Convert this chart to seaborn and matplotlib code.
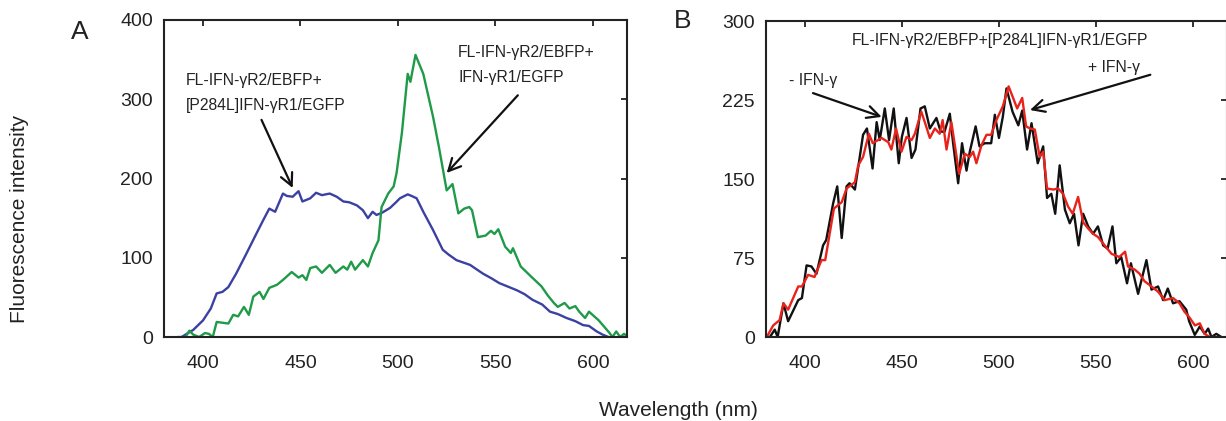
import numpy as np
import pandas as pd
import seaborn as sns
from matplotlib import pyplot as plt

# Panel A: FL-IFN-gR2/EBFP + [P284L]IFN-gR1/EGFP (blue)
wl_blue = [389, 395, 400, 404, 407, 410, 413, 417, 422, 427.5, 431, 434, 437, 441, 443, 446,
           449, 451, 455, 458, 461, 465, 468.6, 472, 475, 479, 482, 484.6, 487, 489, 492,
           496, 499, 501, 505, 507, 509.6, 513, 518, 523, 526, 530, 537, 543.6, 548, 552,
           556, 561, 565, 569, 574, 578, 582, 586.5, 591, 595, 598, 602, 605, 608]
int_blue = [0, 9, 21, 36, 55, 57, 63, 80, 104, 131, 148, 162, 158, 181, 178, 177,
            184, 171, 175, 182, 179, 181, 177, 171, 170, 166, 160, 150, 158, 154, 157,
            163, 170, 175, 180, 178, 175, 158, 135, 110, 104, 97, 91, 80, 74, 68,
            64, 59, 54, 47, 41, 32, 29, 24, 20, 15, 14, 7, 3, 0]

# Panel A: FL-IFN-gR2/EBFP + IFN-gR1/EGFP (green)
wl_green = [387, 391, 393, 395, 398, 401, 403, 405, 407, 410, 413, 415.5, 418, 421, 423.5,
            425.8, 429, 431, 434, 438, 441, 445.5, 449, 451, 453, 455, 458, 461, 465, 468,
            472, 474, 476, 478, 482, 484.6, 487, 490, 491.6, 495, 497.8, 499.3, 502, 505,
            506.4, 509, 513, 518, 521, 525, 528, 531, 534, 536.6, 538, 541, 545, 547.7,
            549.5, 551.5, 555, 557.9, 559, 563, 568, 573.6, 577, 580, 582, 585.5, 588,
            591, 593, 596, 598, 603, 608.6, 610, 612, 614, 616, 618]
int_green = [0, 0, 8, 3, 0, 5, 4, 0, 19, 18, 17, 28, 26, 38, 28,
             51, 57, 48, 62, 66, 72, 82, 75, 78, 72, 87, 89, 81, 91, 81,
             89, 85, 95, 85, 97, 89, 106, 122, 164, 181, 190, 207, 257, 332,
             322, 356, 332, 278, 240, 185, 193, 156, 162, 164, 160, 126, 128, 134,
             130, 136, 114, 106, 112, 89, 77, 64, 52, 43, 38, 43, 36,
             39, 32, 24, 32, 21, 5, 0, 7, 0, 4, 0]

# Panel B: - IFN-g (black)
wl_minus = [379.4, 382, 384.5, 386, 389, 391.4, 396.6, 398.5, 400.9, 403.4, 406, 409.4, 411,
            414.6, 416.7, 419, 421.5, 423, 425.8, 430, 432, 434.9, 437, 438.6, 441.2, 443.4,
            445.8, 448.4, 450, 452.4, 455, 457, 459.6, 461.8, 464.4, 467.8, 470, 472, 474.7,
            476.4, 479, 481, 483.3, 485, 488, 490, 492.7, 496, 497.9, 500, 502, 503.9, 507,
            510, 512, 514.5, 516.8, 520, 522.8, 524.8, 527, 529, 531.3, 534, 536.5, 538.7,
            541, 543.4, 546, 548.5, 551, 553.7, 556, 558.5, 560.5, 563, 566, 568, 571.7, 576,
            578.6, 582, 584.6, 587, 589.7, 593, 596.5, 598, 600.9, 603.5, 606, 607.8, 609.5,
            612, 614.6]
int_minus = [0, 0, 7, 0, 32, 15, 35, 37, 68, 67, 60, 87, 92,
             127, 143, 94, 143, 146, 140, 192, 198, 160, 204, 187, 217, 187,
             217, 165, 190, 208, 170, 178, 217, 219, 198, 208, 195, 195, 212,
             184, 146, 184, 158, 176, 200, 181, 184, 184, 211, 189, 209, 236, 214,
             201, 215, 178, 203, 165, 181, 132, 136, 117, 163, 121, 108, 117,
             87, 117, 105, 98, 105, 87, 84, 105, 70, 76, 51, 70, 41, 73,
             45, 48, 35, 46, 32, 34, 26, 15, 2, 10, 3, 8, 0,
             3, 0]

# Panel B: + IFN-g (red)
wl_plus = [379.4, 381, 383.7, 387, 389, 391.4, 396.6, 398.5, 401.7, 405, 408.6, 410.5, 415,
           419, 421.5, 425.8, 427.5, 430, 433, 435, 439.5, 443, 444.6, 447, 449.8, 452.4,
           455, 456.7, 460, 462, 464.4, 467, 469.5, 471, 473, 475.5, 479.5, 482.4, 485,
           486.7, 488.4, 491, 493.6, 496, 498.7, 502, 505, 509.4, 512, 514, 516, 518.5, 521,
           522.8, 524.8, 528, 530.5, 533, 535.6, 538, 540.8, 543.4, 546, 548.5, 551, 554.5,
           558, 562, 565, 566.5, 570, 572.5, 575, 578.6, 582, 585.4, 589.7, 593, 595.6, 598,
           601, 603.5, 606, 608.6, 612]
int_plus = [0, 2, 11, 16, 32, 26, 48, 48, 59, 57, 73, 73, 122,
            128, 141, 147, 163, 171, 193, 184, 189, 185, 178, 198, 176, 190,
            187, 193, 214, 203, 189, 198, 193, 206, 178, 204, 155, 174, 171,
            176, 165, 182, 192, 192, 206, 219, 238, 217, 227, 200, 198, 197, 171,
            176, 141, 140, 141, 136, 124, 117, 133, 109, 103, 98, 95, 87,
            79, 76, 81, 67, 64, 60, 53, 48, 43, 35, 37, 32, 24, 19,
            11, 13, 3, 0, 0]

x_ticks = [400, 450, 500, 550, 600]
y_ticks_a = [0, 100, 200, 300, 400]
y_ticks_b = [0, 75, 150, 225, 300]

sns.set_style("white")
plt.rcParams['font.family'] = ['Liberation Sans', 'DejaVu Sans']
plt.rcParams['axes.linewidth'] = 1.5

fig = plt.figure(figsize=(12.26, 4.21), dpi=100)
ax_a = fig.add_axes([0.1338, 0.1995, 0.3776, 0.753])
ax_b = fig.add_axes([0.6248, 0.1995, 0.3760, 0.7505])

df_a = pd.concat([
    pd.DataFrame({'wl': wl_blue, 'val': int_blue, 'series': 'mutant'}),
    pd.DataFrame({'wl': wl_green, 'val': int_green, 'series': 'wt'}),
])
df_b = pd.concat([
    pd.DataFrame({'wl': wl_minus, 'val': int_minus, 'series': 'minus'}),
    pd.DataFrame({'wl': wl_plus, 'val': int_plus, 'series': 'plus'}),
])

sns.lineplot(data=df_a, x='wl', y='val', hue='series', estimator=None, sort=False,
             palette={'mutant': '#3b41a3', 'wt': '#1f9a48'}, lw=1.7, legend=False, ax=ax_a)
sns.lineplot(data=df_b, x='wl', y='val', hue='series', estimator=None, sort=False,
             palette={'minus': '#111111', 'plus': '#e8231c'}, lw=1.7, legend=False, ax=ax_b)

for ax, yt in [(ax_a, y_ticks_a), (ax_b, y_ticks_b)]:
    ax.set_xlim(380, 617.5)
    ax.set_ylim(yt[0], yt[-1])
    ax.set_xticks(x_ticks)
    ax.set_yticks(yt)
    ax.set_xlabel("")
    ax.set_ylabel("")
    ax.tick_params(direction='in', top=True, right=True, length=4, width=1.3,
                   labelsize=14, colors='#222222')
    ax.tick_params(axis='x', pad=13)
    ax.tick_params(axis='y', pad=8)
    for sp in ax.spines.values():
        sp.set_color('#222222')
        sp.set_linewidth(1.5)

arrow = dict(arrowstyle='->', lw=1.6, color='#111111', mutation_scale=22, shrinkA=0, shrinkB=0)
txt = dict(fontsize=11.3, color='#222222')

# panel A annotations
ax_a.text(391.3, 324, "FL-IFN-γR2/EBFP+", va='center', ha='left', **txt)
ax_a.text(391.3, 292, "[P284L]IFN-γR1/EGFP", va='center', ha='left', **txt)
ax_a.annotate("", xy=(446, 188), xytext=(430, 274), arrowprops=arrow)
ax_a.text(530.9, 359, "FL-IFN-γR2/EBFP+", va='center', ha='left', **txt)
ax_a.text(530.9, 328, "IFN-γR1/EGFP", va='center', ha='left', **txt)
ax_a.annotate("", xy=(525, 207), xytext=(561.5, 305), arrowprops=arrow)

# panel B annotations
ax_b.text(500.6, 282, "FL-IFN-γR2/EBFP+[P284L]IFN-γR1/EGFP", va='center', ha='center', **txt)
ax_b.text(391.8, 244, "- IFN-γ", va='center', ha='left', **txt)
ax_b.annotate("", xy=(439.6, 209), xytext=(404.2, 231.6), arrowprops=arrow)
ax_b.text(545.9, 256, "+ IFN-γ", va='center', ha='left', **txt)
ax_b.annotate("", xy=(516, 215.5), xytext=(578, 249), arrowprops=arrow)

fig.text(80 / 1226, 1 - 32 / 421, "A", fontsize=19, ha='center', va='center', color='#222222')
fig.text(683 / 1226, 1 - 21 / 421, "B", fontsize=19, ha='center', va='center', color='#222222')
fig.text(20 / 1226, 1 - 219 / 421, "Fluorescence intensity", fontsize=15, rotation=90,
         ha='center', va='center', color='#222222')
fig.text(678 / 1226, 1 - 410 / 421, "Wavelength (nm)", fontsize=15,
         ha='center', va='center', color='#222222')

fig.savefig("out.png", dpi=100)
